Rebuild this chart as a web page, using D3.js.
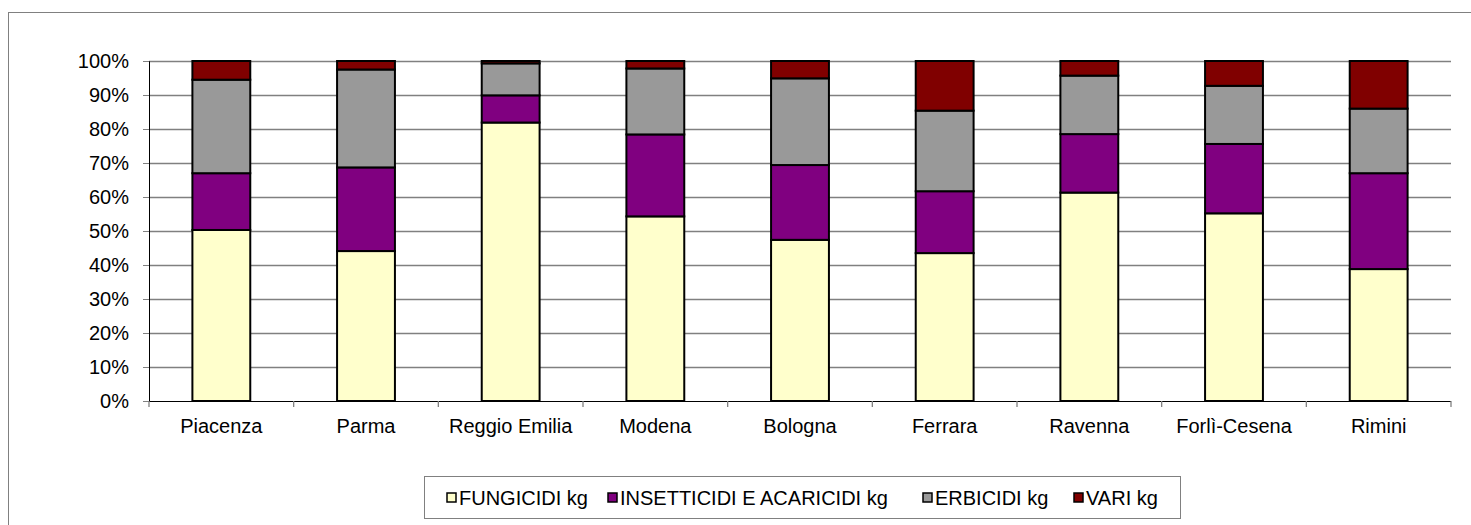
<!DOCTYPE html>
<html><head><meta charset="utf-8">
<script src="https://cdn.jsdelivr.net/npm/d3@7"></script>
<style>
html,body{margin:0;padding:0;background:#fff;}
svg text{font-family:"Liberation Sans",Arial,sans-serif;fill:#000;}
</style></head>
<body><svg id="chart" width="1471" height="525"></svg>
<script>
const categories = ["Piacenza","Parma","Reggio Emilia","Modena","Bologna","Ferrara","Ravenna","Forlì-Cesena","Rimini"];
const seriesNames = ["FUNGICIDI kg","INSETTICIDI E ACARICIDI kg","ERBICIDI kg","VARI kg"];
const fungicidi   = [50.3, 44.1, 81.9, 54.3, 47.4, 43.5, 61.3, 55.2, 38.8];
const insetticidi = [16.7, 24.6,  8.0, 24.1, 22.0, 18.2, 17.2, 20.4, 28.2];
const erbicidi    = [27.5, 28.8,  9.4, 19.4, 25.5, 23.7, 17.2, 17.1, 19.0];
const vari        = [ 5.5,  2.5,  0.7,  2.2,  5.1, 14.6,  4.3,  7.3, 14.0];
const seriesColors = ["#FFFFCC","#800080","#999999","#800000"];
const yTicks = [0,0.1,0.2,0.3,0.4,0.5,0.6,0.7,0.8,0.9,1.0];

(function(){
const svg = d3.select("#chart");
const mLeft = 149, mRight = 1451, mTop = 61, mBottom = 401;
const fs = 20;

svg.append("rect").attr("x",8.5).attr("y",12.5).attr("width",1600).attr("height",700)
  .attr("fill","none").attr("stroke","#808080").attr("stroke-width",1);

const x = d3.scaleBand().domain(categories).range([mLeft,mRight]).paddingInner(0.6).paddingOuter(0.3);
const xb = d3.scaleBand().domain(categories).range([mLeft,mRight]);
const y = d3.scaleLinear().domain([0,1]).range([mBottom,mTop]);

svg.append("g").selectAll("line").data(yTicks.slice(1)).join("line")
  .attr("x1",mLeft).attr("x2",mRight)
  .attr("y1",d=>Math.round(y(d))+0.5).attr("y2",d=>Math.round(y(d))+0.5)
  .attr("stroke","#808080").attr("stroke-width",1.3);

const rows = categories.map((c,i)=>{
  const vals=[fungicidi[i],insetticidi[i],erbicidi[i],vari[i]];
  const tot=d3.sum(vals);
  const o={cat:c};
  seriesNames.forEach((s,j)=>o[s]=vals[j]/tot);
  return o;
});
const stack = d3.stack().keys(seriesNames)(rows);

svg.append("g").selectAll("g").data(stack).join("g")
  .attr("fill",(d,i)=>seriesColors[i])
  .selectAll("rect").data(d=>d).join("rect")
  .attr("x",d=>x(d.data.cat))
  .attr("width",x.bandwidth())
  .attr("y",d=>y(d[1]))
  .attr("height",d=>y(d[0])-y(d[1]))
  .attr("stroke","#000").attr("stroke-width",2);

const yAxis = d3.axisLeft(y).tickValues(yTicks).tickFormat(d3.format(".0%")).tickSize(6).tickPadding(14);
const ga = svg.append("g").attr("transform",`translate(${mLeft},0)`).call(yAxis);
ga.select(".domain").attr("stroke","#000");
ga.selectAll(".tick line").attr("stroke","#808080");
ga.selectAll("text").style("font-size",fs+"px").attr("fill","#000");

const xAxis = d3.axisBottom(xb).tickSize(0).tickPadding(18);
const gx = svg.append("g").attr("transform",`translate(0,${mBottom})`).call(xAxis);
gx.select(".domain").attr("stroke","#000").attr("d",`M${mLeft},0.5H${mRight}`);
gx.selectAll("text").style("font-size",fs+"px").attr("fill","#000");
const bounds = categories.map(c=>xb(c)).concat([mRight]);
svg.append("g").selectAll("line").data(bounds).join("line")
  .attr("x1",d=>d).attr("x2",d=>d).attr("y1",mBottom).attr("y2",mBottom+6)
  .attr("stroke","#808080").attr("stroke-width",1.3);

const lg = svg.append("g");
lg.append("rect").attr("x",424.5).attr("y",476.5).attr("width",756).attr("height",42)
  .attr("fill","#fff").attr("stroke","#808080");
const itemX = [447, 608, 923, 1074];
seriesNames.forEach((s,i)=>{
  lg.append("rect").attr("x",itemX[i]).attr("y",493).attr("width",9).attr("height",9)
    .attr("fill",seriesColors[i]).attr("stroke","#000").attr("stroke-width",1.5);
  lg.append("text").attr("x",itemX[i]+12).attr("y",498).attr("dy","0.35em")
    .style("font-size",fs+"px").text(s);
});
})();
</script></body></html>
